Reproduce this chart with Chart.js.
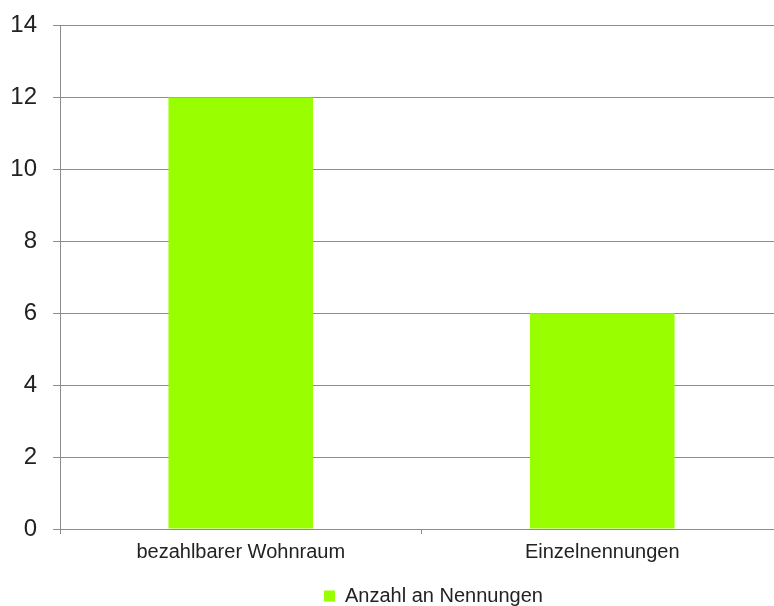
<!DOCTYPE html>
<html>
<head>
<meta charset="utf-8">
<script src="https://cdn.jsdelivr.net/npm/chart.js@4/dist/chart.umd.min.js"></script>
<style>
  html, body { margin: 0; padding: 0; background: #fff; overflow: hidden; }
  #wrap { width: 783px; height: 606px; }
</style>
</head>
<body>
<div id="wrap"><canvas id="chart"></canvas></div>
<script>
const categories = ['bezahlbarer Wohnraum', 'Einzelnennungen'];
const seriesName = 'Anzahl an Nennungen';
const counts = [12, 6];
const yTicks = [0, 2, 4, 6, 8, 10, 12, 14];

const gridGray = '#8c8c8c';
const barGreen = '#99ff00';
const fontFamily = 'Liberation Sans, Arial, sans-serif';

// the legend in the original sits a bit right of centre
const legendShift = {
  id: 'legendShift',
  afterLayout(chart) {
    chart.legend.left += 42;
    chart.legend.right += 42;
  }
};

new Chart(document.getElementById('chart'), {
  type: 'bar',
  data: {
    labels: categories,
    datasets: [{
      label: seriesName,
      data: counts,
      backgroundColor: barGreen,
      borderWidth: 0,
      categoryPercentage: 1,
      barPercentage: 0.4
    }]
  },
  options: {
    responsive: true,
    maintainAspectRatio: false,
    animation: false,
    layout: { padding: { top: 0, right: 0, left: 0, bottom: -10 } },
    scales: {
      x: {
        offset: true,
        grid: { display: true, drawOnChartArea: false, tickLength: 5, color: gridGray, offset: true },
        border: { display: true, color: gridGray },
        ticks: { color: '#222', font: { family: fontFamily, size: 20 }, padding: 6 },
        afterFit: scale => { scale.height = 55; }
      },
      y: {
        min: 0,
        max: 14,
        afterBuildTicks: axis => { axis.ticks = yTicks.map(v => ({ value: v })); },
        grid: { color: gridGray, tickLength: 7 },
        border: { display: true, color: gridGray },
        ticks: { color: '#222', font: { family: fontFamily, size: 24, lineHeight: 0.8 }, padding: 16 },
        afterFit: scale => { scale.width = 60; }
      }
    },
    plugins: {
      legend: {
        position: 'bottom',
        labels: {
          color: '#222',
          font: { family: fontFamily, size: 20 },
          boxWidth: 11,
          boxHeight: 11,
          padding: 2
        }
      },
      tooltip: { enabled: false }
    }
  },
  plugins: [legendShift]
});
</script>
</body>
</html>
